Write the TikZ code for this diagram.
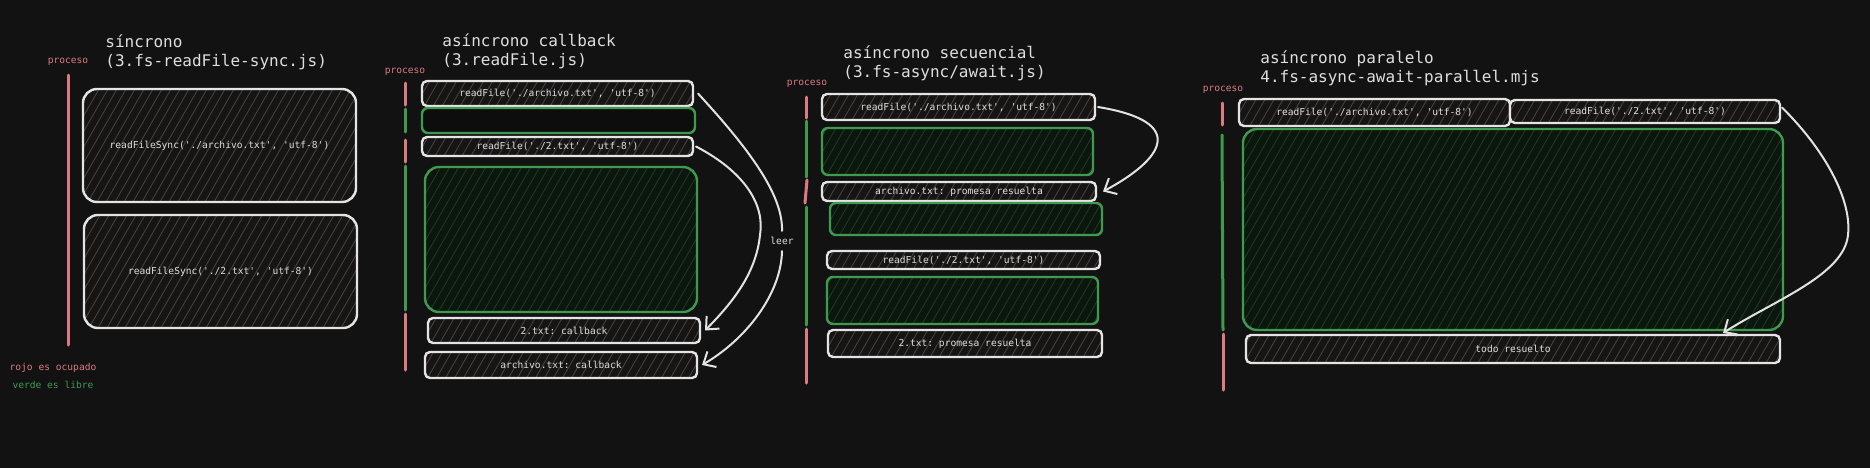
\documentclass[tikz,border=0pt]{standalone}
\usepackage{fontspec}
\setmonofont{DejaVu Sans Mono}
\usetikzlibrary{arrows.meta,calc}
\definecolor{bg}{HTML}{121212}
\definecolor{boxline}{HTML}{E4E4E4}
\definecolor{txt}{HTML}{DEDEDE}
\definecolor{fillW}{HTML}{171414}
\definecolor{fillG}{HTML}{0B160D}
\definecolor{hatchW}{HTML}{464040}
\definecolor{hatchG}{HTML}{21362A}
\definecolor{redc}{HTML}{DC7A84}
\definecolor{greenc}{HTML}{3F9A50}
\definecolor{arrowc}{HTML}{E2E2E2}
\newcommand\smallmono{\ttfamily\fontsize{4.8}{5.6}\selectfont}
\newcommand\titlemono{\ttfamily\fontsize{8}{9.5}\selectfont}
\begin{document}
\begin{tikzpicture}[x=0.5pt,y=-0.5pt,
  hatch/.style={path picture={\foreach \k in {-60,...,28}{\draw[#1,line width=0.45pt] ($(path picture bounding box.center)+(\k*9,250)$) -- ++(288,-500);}}},
  sz/.style 2 args={minimum width=#1*0.5pt,minimum height=#2*0.5pt},
  wbox/.style={draw=boxline,line width=1.2pt,rounded corners=2.5pt,fill=fillW,hatch=hatchW,inner sep=0pt,outer sep=0pt,text=txt,font=\smallmono},
  gbox/.style={draw=greenc,line width=1.2pt,rounded corners=3pt,fill=fillG,hatch=hatchG,inner sep=0pt,outer sep=0pt},
  big/.style={rounded corners=7pt},
  title/.style={anchor=west,align=left,text=txt,font=\titlemono,inner sep=0pt},
  proc/.style={text=redc,font=\smallmono,inner sep=0pt},
  rbar/.style={draw=redc,line width=1.5pt,line cap=round},
  gbar/.style={draw=greenc,line width=1.5pt,line cap=round},
  arr/.style={draw=arrowc,line width=1pt,line cap=round,-{Straight Barb[length=5pt,width=9pt]}},
  arrline/.style={draw=arrowc,line width=1pt,line cap=round}
]
\useasboundingbox (0,0) rectangle (1870,467);
\fill[bg] (-10,-10) rectangle (1880,477);

% ---------- Panel 1: sincrono ----------
\node[title] (t1) at (105,52) {síncrono\\(3.fs-readFile-sync.js)};
\node[proc] (p1) at (68,62) {proceso};
\draw[rbar] (68,75) -- (68,345);
\node[wbox,big,sz={273}{113}] (s1) at (219.5,145.5) {readFileSync('./archivo.txt', 'utf-8')};
\node[wbox,big,sz={273}{113}] (s2) at (220.5,271.5) {readFileSync('./2.txt', 'utf-8')};
\node[proc] (l1) at (53,368) {rojo es ocupado};
\node[text=greenc,font=\smallmono,inner sep=0pt] (l2) at (53,385) {verde es libre};

% ---------- Panel 2: asincrono callback ----------
\node[title] (t2) at (442,51) {asíncrono callback\\(3.readFile.js)};
\node[proc] (p2) at (405,72) {proceso};
\draw[rbar] (405,83) -- (405,105);
\draw[gbar] (405,109) -- (405,132);
\draw[rbar] (405,140) -- (405,162);
\draw[gbar] (405,166) -- (405,310);
\draw[rbar] (405,314) -- (405,370);
\node[wbox,sz={271}{25}] (A) at (557.5,93.5) {readFile('./archivo.txt', 'utf-8')};
\node[draw=greenc,line width=1.2pt,rounded corners=3pt,fill=bg!70!black,inner sep=0pt,outer sep=0pt,sz={273}{25}] (B) at (558.5,120.5) {};
\node[wbox,sz={271}{19}] (C) at (557.5,146.5) {readFile('./2.txt', 'utf-8')};
\node[gbox,big,sz={272}{145}] (D) at (561,239.5) {};
\node[wbox,sz={272}{25}] (E) at (564,330.5) {2.txt: callback};
\node[wbox,sz={272}{26}] (F) at (561,365) {archivo.txt: callback};
\node[fill=bg,text=txt,font=\smallmono,inner xsep=1pt,inner ysep=3pt] (leer) at (782,241) {leer};
\draw[arrline] ([xshift=2.5pt]A.east) .. controls (750,150) and (783,195) .. (leer.north);
\draw[arr] (leer.south) .. controls (781,295) and (745,340) .. ([xshift=2.5pt]F.east);
\draw[arr] ([xshift=1.5pt]C.east) .. controls (745,172) and (765,205) .. (760,235) .. controls (756,275) and (730,305) .. ([xshift=2.5pt]E.east);

% ---------- Panel 3: asincrono secuencial ----------
\node[title] (t3) at (843,63.5) {asíncrono secuencial\\(3.fs-async/await.js)};
\node[proc] (p3) at (807,84) {proceso};
\draw[rbar] (806,97) -- (806,118);
\draw[gbar] (806,121) -- (806,177);
\draw[rbar] (807,180) -- (805,203);
\draw[gbar] (806,207) -- (806,325);
\draw[rbar] (806,329) -- (806,383);
\node[wbox,sz={273}{26}] (P1) at (958.5,107) {readFile('./archivo.txt', 'utf-8')};
\node[gbox,sz={271}{47}] (P2) at (957.5,151.5) {};
\node[wbox,sz={274}{19}] (P3) at (959,191.5) {archivo.txt: promesa resuelta};
\node[gbox,sz={272}{32}] (P4) at (966,219) {};
\node[wbox,sz={273}{18}] (P5) at (963.5,260) {readFile('./2.txt', 'utf-8')};
\node[gbox,sz={271}{47}] (P6) at (962.5,300.5) {};
\node[wbox,sz={274}{27}] (P7) at (965,343.5) {2.txt: promesa resuelta};
\draw[arr] ([xshift=1.5pt]P1.east) .. controls (1190,122) and (1162,160) .. ([xshift=3.5pt]P3.east);

% ---------- Panel 4: asincrono paralelo ----------
\node[title] (t4) at (1260,68.5) {asíncrono paralelo\\4.fs-async-await-parallel.mjs};
\node[proc] (p4) at (1223,90) {proceso};
\draw[rbar] (1222,103) -- (1222,125);
\draw[gbar] (1222,135) -- (1223,330);
\draw[rbar] (1223,334) -- (1223,390);
\node[wbox,sz={271}{27}] (L) at (1374.5,112.5) {readFile('./archivo.txt', 'utf-8')};
\node[wbox,sz={270}{23}] (R) at (1645,111.5) {readFile('./2.txt', 'utf-8')};
\node[gbox,big,sz={540}{201}] (G) at (1513,229.5) {};
\node[wbox,sz={534}{28}] (T) at (1513,349) {todo resuelto};
\coordinate (tip4) at (1723,333);
\draw[arr] ([xshift=1pt,yshift=2pt]R.east) .. controls (1825,150) and (1852,200) .. (1848,235) .. controls (1844,275) and (1775,300) .. (tip4);
\end{tikzpicture}
\end{document}
